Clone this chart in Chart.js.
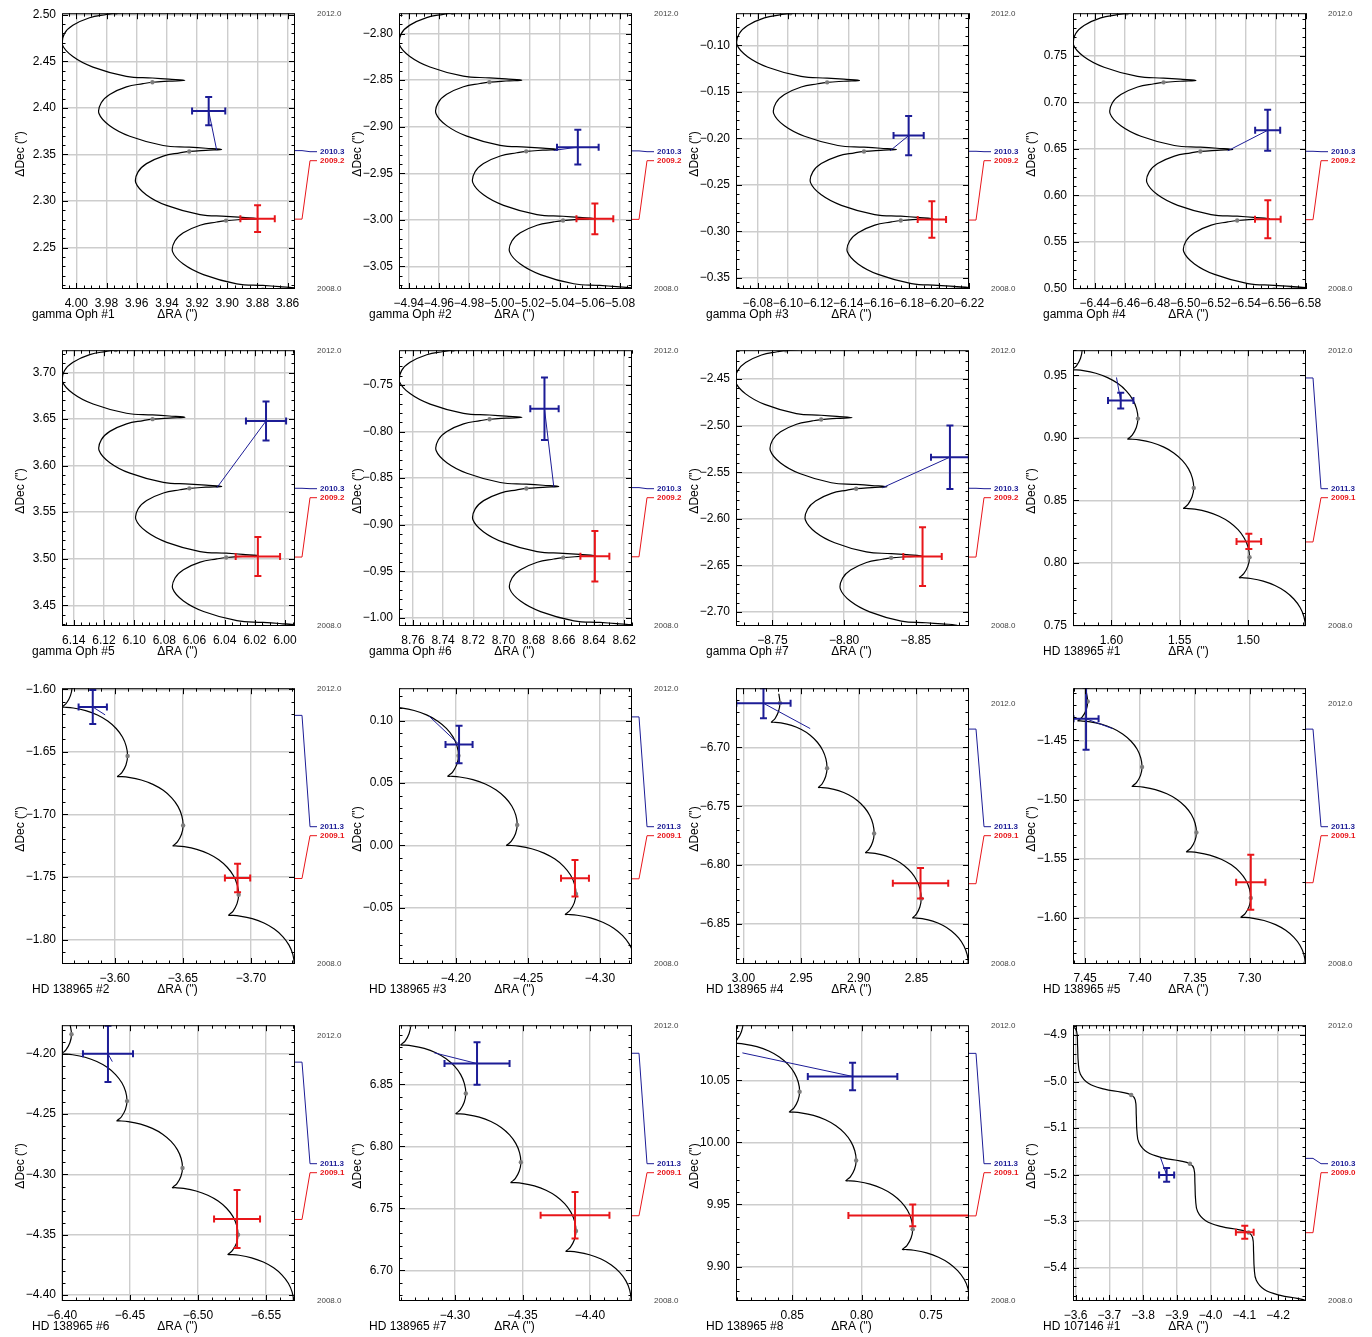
<!DOCTYPE html>
<html>
<head>
<meta charset="utf-8">
<script src="https://cdn.jsdelivr.net/npm/chart.js@4.4.0/dist/chart.umd.min.js"></script>
<style>
html, body { margin: 0; padding: 0; background: #fff; overflow: hidden; }
#grid { position: relative; width: 1372px; height: 1337px; }
#grid canvas { position: absolute; }
</style>
</head>
<body>
<div id="grid"></div>
<script>
// model tracks, offsets (RA, Dec) from the 2009.0 position
const gamTrackRA = [-0.0182,
  -0.0244, -0.0354, -0.0459, -0.0354, -0.0244, -0.0071, 0.0150, 0.0283, 0.0354, 0.0339, 0.0283, 0.0172, 0.0062,
  0, -0.0110, -0.0215, -0.0110, 0, 0.0173, 0.0394, 0.0527, 0.0598, 0.0583, 0.0527, 0.0416, 0.0306,
  0.0244, 0.0134, 0.0029, 0.0134, 0.0244, 0.0417, 0.0638, 0.0771, 0.0842, 0.0827, 0.0771, 0.0660, 0.0550,
  0.0488, 0.0378, 0.0273, 0.0378, 0.0488, 0.0661, 0.0882, 0.1015, 0.1086, 0.1071, 0.1015, 0.0904, 0.0794,
  0.0732, 0.0622, 0.0517];
const gamTrackDec = [-0.0758,
  -0.0743, -0.0731, -0.0722, -0.0709, -0.0697, -0.0679, -0.0580, -0.0467, -0.0336, -0.0220, -0.0131, -0.0050, -0.0015,
  0, 0.0012, 0.0021, 0.0034, 0.0046, 0.0064, 0.0163, 0.0276, 0.0407, 0.0523, 0.0612, 0.0693, 0.0728,
  0.0743, 0.0755, 0.0764, 0.0777, 0.0789, 0.0807, 0.0906, 0.1019, 0.1150, 0.1266, 0.1355, 0.1436, 0.1471,
  0.1486, 0.1498, 0.1507, 0.1520, 0.1532, 0.1550, 0.1649, 0.1762, 0.1893, 0.2009, 0.2098, 0.2179, 0.2214,
  0.2229, 0.2241, 0.2250];
const gamDotRA = [-0.0244, 0, 0.0244, 0.0488, 0.0732];
const gamDotDec = [-0.0743, 0, 0.0743, 0.1486, 0.2229];

const hdTrackRA = [-0.0396,
  -0.0408, -0.0398, -0.0370, -0.0324, -0.0262, -0.0186, -0.0100, -0.0008, 0.0054, 0.0074, 0.0068, 0.0042, 0.0012,
  0, 0.0010, 0.0038, 0.0084, 0.0146, 0.0222, 0.0308, 0.0400, 0.0462, 0.0482, 0.0476, 0.0450, 0.0420,
  0.0408, 0.0418, 0.0446, 0.0492, 0.0554, 0.0630, 0.0716, 0.0808, 0.0870, 0.0890, 0.0884, 0.0858, 0.0828,
  0.0816, 0.0826, 0.0854, 0.0900, 0.0962, 0.1038, 0.1124, 0.1216, 0.1278, 0.1298, 0.1292, 0.1266, 0.1236,
  0.1224, 0.1234];
const hdTrackDec = [-0.0625,
  -0.0554, -0.0476, -0.0402, -0.0334, -0.0274, -0.0226, -0.0191, -0.0170, -0.0164, -0.0164, -0.0157, -0.0132, -0.0071,
  0, 0.0078, 0.0152, 0.0220, 0.0280, 0.0328, 0.0363, 0.0384, 0.0390, 0.0390, 0.0397, 0.0422, 0.0483,
  0.0554, 0.0632, 0.0706, 0.0774, 0.0834, 0.0882, 0.0917, 0.0938, 0.0944, 0.0944, 0.0951, 0.0976, 0.1037,
  0.1108, 0.1186, 0.1260, 0.1328, 0.1388, 0.1436, 0.1471, 0.1492, 0.1498, 0.1498, 0.1505, 0.1530, 0.1591,
  0.1662, 0.1740];
const hdDotRA = [-0.0408, 0, 0.0408, 0.0816, 0.1224];
const hdDotDec = [-0.0554, 0, 0.0554, 0.1108, 0.1662];

// HD 138965 #5 is drawn wider in RA in the figure
const hd5TrackRA = [-0.0480,
  -0.0495, -0.0483, -0.0449, -0.0393, -0.0318, -0.0226, -0.0121, -0.0010, 0.0066, 0.0090, 0.0082, 0.0051, 0.0015,
  0, 0.0012, 0.0046, 0.0102, 0.0177, 0.0269, 0.0374, 0.0485, 0.0560, 0.0585, 0.0577, 0.0546, 0.0509,
  0.0495, 0.0507, 0.0541, 0.0597, 0.0672, 0.0764, 0.0869, 0.0980, 0.1055, 0.1080, 0.1072, 0.1041, 0.1004,
  0.0990, 0.1002, 0.1036, 0.1092, 0.1167, 0.1259, 0.1363, 0.1475, 0.1550, 0.1574, 0.1567, 0.1536, 0.1499,
  0.1485, 0.1497];
const hd5DotRA = [-0.0495, 0, 0.0495, 0.0990, 0.1485];

const hd107TrackRA = [-0.1857,
  -0.1738, -0.1440, -0.0944, -0.0467, -0.0229, -0.0169, -0.0149, -0.0119,
  0, 0.0298, 0.0794, 0.1271, 0.1509, 0.1569, 0.1589, 0.1619,
  0.1738, 0.2036, 0.2532, 0.3009, 0.3247, 0.3307, 0.3327, 0.3357,
  0.3476, 0.3774, 0.4270, 0.4747, 0.4985, 0.5045, 0.5065, 0.5095,
  0.5214, 0.5512];
const hd107TrackDec = [-0.1583,
  -0.1478, -0.1415, -0.1351, -0.1225, -0.1027, -0.0774, -0.0422, -0.0105,
  0, 0.0063, 0.0127, 0.0253, 0.0451, 0.0704, 0.1056, 0.1373,
  0.1478, 0.1541, 0.1605, 0.1731, 0.1929, 0.2182, 0.2534, 0.2851,
  0.2956, 0.3019, 0.3083, 0.3209, 0.3407, 0.3660, 0.4012, 0.4329,
  0.4434, 0.4497];
const hd107DotRA = [-0.1738, 0, 0.1738, 0.3476, 0.5214];
const hd107DotDec = [-0.1478, 0, 0.1478, 0.2956, 0.4434];

// panels
const panelNames = ['gamma Oph #1', 'gamma Oph #2', 'gamma Oph #3', 'gamma Oph #4',
  'gamma Oph #5', 'gamma Oph #6', 'gamma Oph #7', 'HD 138965 #1',
  'HD 138965 #2', 'HD 138965 #3', 'HD 138965 #4', 'HD 138965 #5',
  'HD 138965 #6', 'HD 138965 #7', 'HD 138965 #8', 'HD 107146 #1'];
const panelStar = ['gam', 'gam', 'gam', 'gam', 'gam', 'gam', 'gam', 'hd',
  'hd', 'hd', 'hd', 'hd5', 'hd', 'hd', 'hd', 'hd107'];
const epochBlue = ['2010.3', '2010.3', '2010.3', '2010.3', '2010.3', '2010.3', '2010.3', '2011.3',
  '2011.3', '2011.3', '2011.3', '2011.3', '2011.3', '2011.3', '2011.3', '2010.3'];
const epochRed = ['2009.2', '2009.2', '2009.2', '2009.2', '2009.2', '2009.2', '2009.2', '2009.1',
  '2009.1', '2009.1', '2009.1', '2009.1', '2009.1', '2009.1', '2009.1', '2009.0'];

const xMin = [3.8551, -5.0880, -6.2200, -6.5800, 5.9934, 8.6148, -8.8871, 1.4577,
  -3.7324, -4.3222, 2.8045, 7.2488, -6.5713, -4.4311, 0.7225, -4.2824];
const xMax = [4.0095, -4.9336, -6.0656, -6.4256, 6.1478, 8.7692, -8.7246, 1.6281,
  -3.5612, -4.1604, 3.0064, 7.4610, -6.4000, -4.2585, 0.8906, -3.5921];
const yMin = [2.2055, -3.0742, -0.3620, 0.4993, 3.4277, -1.0088, -2.7152, 0.7495,
  -1.8195, -0.0950, -6.8840, -1.6392, -4.4049, 6.6754, 9.8722, -5.4718];
const yMax = [2.5018, -2.7781, -0.0653, 0.7960, 3.7240, -0.7125, -2.4189, 0.9700,
  -1.5992, 0.1261, -6.6498, -1.4058, -4.1763, 6.8976, 10.0945, -4.8789];

const xTicks = [
  [4.00, 3.98, 3.96, 3.94, 3.92, 3.90, 3.88, 3.86],
  [-4.94, -4.96, -4.98, -5.00, -5.02, -5.04, -5.06, -5.08],
  [-6.08, -6.10, -6.12, -6.14, -6.16, -6.18, -6.20, -6.22],
  [-6.44, -6.46, -6.48, -6.50, -6.52, -6.54, -6.56, -6.58],
  [6.14, 6.12, 6.10, 6.08, 6.06, 6.04, 6.02, 6.00],
  [8.76, 8.74, 8.72, 8.70, 8.68, 8.66, 8.64, 8.62],
  [-8.75, -8.80, -8.85],
  [1.60, 1.55, 1.50],
  [-3.60, -3.65, -3.70],
  [-4.20, -4.25, -4.30],
  [3.00, 2.95, 2.90, 2.85],
  [7.45, 7.40, 7.35, 7.30],
  [-6.40, -6.45, -6.50, -6.55],
  [-4.30, -4.35, -4.40],
  [0.85, 0.80, 0.75],
  [-3.6, -3.7, -3.8, -3.9, -4.0, -4.1, -4.2]];
const yTicks = [
  [2.25, 2.30, 2.35, 2.40, 2.45, 2.50],
  [-3.05, -3.00, -2.95, -2.90, -2.85, -2.80],
  [-0.35, -0.30, -0.25, -0.20, -0.15, -0.10],
  [0.50, 0.55, 0.60, 0.65, 0.70, 0.75],
  [3.45, 3.50, 3.55, 3.60, 3.65, 3.70],
  [-1.00, -0.95, -0.90, -0.85, -0.80, -0.75],
  [-2.70, -2.65, -2.60, -2.55, -2.50, -2.45],
  [0.75, 0.80, 0.85, 0.90, 0.95],
  [-1.80, -1.75, -1.70, -1.65, -1.60],
  [-0.05, 0.00, 0.05, 0.10],
  [-6.85, -6.80, -6.75, -6.70],
  [-1.60, -1.55, -1.50, -1.45],
  [-4.40, -4.35, -4.30, -4.25, -4.20],
  [6.70, 6.75, 6.80, 6.85],
  [9.90, 9.95, 10.00, 10.05],
  [-5.4, -5.3, -5.2, -5.1, -5.0, -4.9]];

// model position at 2009.0
const origRA = [3.9008, -5.0423, -6.1748, -6.5344, 6.0390, 8.6604, -8.8328, 1.4990,
  -3.6910, -4.2833, 2.8459, 7.2991, -6.5294, -4.3896, 0.7631, -4.1122];
const origDec = [2.2790, -3.0007, -0.2883, 0.5730, 3.5013, -0.9353, -2.6420, 0.8045,
  -1.7642, -0.0389, -6.8285, -1.5833, -4.3500, 6.7318, 9.9301, -5.3246];

// first epoch (red) measurement
const redRA = [3.8799, -5.0634, -6.1954, -6.5547, 6.0180, 8.6394, -8.8547, 1.4995,
  -3.6902, -4.2826, 2.8465, 7.2991, -6.5287, -4.3889, 0.7631, -4.1010];
const redDec = [2.2811, -2.9989, -0.2873, 0.5744, 3.5023, -0.9339, -2.6406, 0.8171,
  -1.7508, -0.0263, -6.8154, -1.5700, -4.3369, 6.7445, 9.9412, -5.3239];
const redErrRA = [0.0114, 0.0122, 0.0094, 0.0085, 0.0147, 0.0096, 0.0134, 0.0090,
  0.0093, 0.0097, 0.0240, 0.0133, 0.0169, 0.0255, 0.0464, 0.0263];
const redErrDec = [0.0143, 0.0164, 0.0196, 0.0205, 0.0209, 0.0272, 0.0316, 0.0061,
  0.0114, 0.0146, 0.0130, 0.0233, 0.0241, 0.0187, 0.0087, 0.0141];

// second epoch (blue) measurement and model position at that epoch
const blueRA = [3.9123, -5.0521, -6.1800, -6.5546, 6.0126, 8.6728, -8.8738, 1.5932,
  -3.5838, -4.2021, 2.9826, 7.4491, -6.4338, -4.3163, 0.8065, -3.8695];
const blueDec = [2.3967, -2.9219, -0.1970, 0.6700, 3.6480, -0.7755, -2.5338, 0.9297,
  -1.6142, 0.0810, -6.6626, -1.4317, -4.2000, 6.8667, 10.0532, -5.2007];
const blueErrRA = [0.0110, 0.0138, 0.0100, 0.0083, 0.0133, 0.0094, 0.0132, 0.0093,
  0.0104, 0.0094, 0.0235, 0.0114, 0.0184, 0.0241, 0.0323, 0.0223];
const blueErrDec = [0.0152, 0.0186, 0.0212, 0.0221, 0.0210, 0.0336, 0.0341, 0.0063,
  0.0136, 0.0150, 0.0127, 0.0262, 0.0233, 0.0171, 0.0111, 0.0148];
const blueModelRA = [3.9070, -5.0361, -6.1677, -6.5282, 6.0452, 8.6666, -8.8267, 1.5963,
  -3.5929, -4.1815, 2.9421, 7.4250, -6.4370, -4.2845, 0.8860, -3.8516];
const blueModelDec = [2.3547, -2.9254, -0.2133, 0.6480, 3.5762, -0.8596, -2.5667, 0.9482,
  -1.6205, 0.1035, -6.6841, -1.4400, -4.2065, 6.8754, 10.0722, -5.1641];

// ---- layout / style ----
const tracks = {
  gam: { ra: gamTrackRA, dec: gamTrackDec, dotRA: gamDotRA, dotDec: gamDotDec, tension: 0.4 },
  hd: { ra: hdTrackRA, dec: hdTrackDec, dotRA: hdDotRA, dotDec: hdDotDec, tension: 0.35 },
  hd5: { ra: hd5TrackRA, dec: hdTrackDec, dotRA: hd5DotRA, dotDec: hdDotDec, tension: 0.35 },
  hd107: { ra: hd107TrackRA, dec: hd107TrackDec, dotRA: hd107DotRA, dotDec: hd107DotDec, tension: 0.4 }
};
const xMinor = [0.005, 0.005, 0.005, 0.005, 0.005, 0.005, 0.01, 0.01,
  0.01, 0.01, 0.01, 0.01, 0.01, 0.01, 0.01, 0.02];
const yMinor = [0.01, 0.01, 0.01, 0.01, 0.01, 0.01, 0.01, 0.01,
  0.01, 0.01, 0.01, 0.01, 0.01, 0.01, 0.01, 0.02];
const yearTopShift = [0, 0, 0, 0, 0, 0, 0, 0, 0, 0, 15, 15, 10, 0, 0, 0];
const rowTop = [0, 337, 675, 1012];
const CW = 362, CH = 337;
const BLUE = '#1c1c96';
const RED = '#e8161a';
const GRID = '#cdcdcd';
const FONT = '"Liberation Sans", Arial, sans-serif';

function fmt(v, d) {
  const s = Math.abs(v).toFixed(d);
  return (v < 0 && Number(s) !== 0 ? '\u2212' : '') + s;
}

function errBar(pts, color, rot) {
  return {
    data: pts, showLine: true, borderColor: color, borderWidth: 2,
    pointStyle: 'line', rotation: rot, pointRadius: 3.5,
    pointBorderColor: color, pointBorderWidth: 2
  };
}

function deco(i) {
  return {
    id: 'deco' + i,
    afterDraw(chart) {
      const { ctx, chartArea: a, scales } = chart;
      const x = scales.x, y = scales.y;
      ctx.save();
      ctx.strokeStyle = '#000';
      ctx.lineWidth = 1;
      ctx.strokeRect(a.left + 0.5, a.top + 0.5, a.width - 1, a.height - 1);

      // inward ticks on all four sides
      const isMajor = (v, list, st) => list.some(t => Math.abs(t - v) < st / 10);
      ctx.beginPath();
      for (let v = Math.ceil(xMin[i] / xMinor[i] - 1e-6) * xMinor[i]; v <= xMax[i] + 1e-9; v += xMinor[i]) {
        const px = Math.round(x.getPixelForValue(v)) + 0.5;
        const len = isMajor(v, xTicks[i], xMinor[i]) ? 6 : 3.5;
        ctx.moveTo(px, a.bottom); ctx.lineTo(px, a.bottom - len);
        ctx.moveTo(px, a.top); ctx.lineTo(px, a.top + len);
      }
      for (let v = Math.ceil(yMin[i] / yMinor[i] - 1e-6) * yMinor[i]; v <= yMax[i] + 1e-9; v += yMinor[i]) {
        const py = Math.round(y.getPixelForValue(v)) + 0.5;
        const len = isMajor(v, yTicks[i], yMinor[i]) ? 6 : 3.5;
        ctx.moveTo(a.left, py); ctx.lineTo(a.left + len, py);
        ctx.moveTo(a.right, py); ctx.lineTo(a.right - len, py);
      }
      ctx.stroke();

      // axis titles and panel name
      ctx.fillStyle = '#000';
      ctx.font = '12px ' + FONT;
      ctx.textBaseline = 'middle';
      ctx.textAlign = 'left';
      ctx.fillText(panelNames[i], 32, 315);
      ctx.textAlign = 'center';
      ctx.fillText("\u0394RA ('')", (a.left + a.right) / 2 - 1, 315);
      ctx.save();
      ctx.translate(21, 154);
      ctx.rotate(-Math.PI / 2);
      ctx.fillText("\u0394Dec ('')", 0, 0);
      ctx.restore();

      // time scale labels
      ctx.textAlign = 'left';
      ctx.fillStyle = '#444';
      ctx.font = '8px ' + FONT;
      ctx.fillText('2012.0', a.right + 22, a.top + 1 + yearTopShift[i]);
      ctx.fillText('2008.0', a.right + 22, a.bottom);

      // epoch leader lines
      const leader = (y0, yl, color, label) => {
        ctx.strokeStyle = color;
        ctx.lineWidth = 1;
        ctx.beginPath();
        ctx.moveTo(a.right, y0);
        ctx.lineTo(a.right + 7, y0);
        ctx.lineTo(a.right + 15, yl);
        ctx.lineTo(a.right + 22, yl);
        ctx.stroke();
        ctx.fillStyle = color;
        ctx.font = 'bold 8px ' + FONT;
        ctx.fillText(label, a.right + 25, yl);
      };
      leader(y.getPixelForValue(blueModelDec[i]) + 0.5, a.top + 138.5, BLUE, epochBlue[i]);
      leader(y.getPixelForValue(redDec[i]) + 0.5, a.top + 147.5, RED, epochRed[i]);
      ctx.restore();
    }
  };
}

const grid = document.getElementById('grid');

for (let i = 0; i < 16; i++) {
  const cv = document.createElement('canvas');
  cv.width = CW;
  cv.height = CH;
  cv.style.left = (i % 4) * 337 + 'px';
  cv.style.top = rowTop[Math.floor(i / 4)] + 'px';
  grid.appendChild(cv);

  const t = tracks[panelStar[i]];
  const track = t.ra.map((r, k) => ({ x: origRA[i] + r, y: origDec[i] + t.dec[k] }));
  const dots = t.dotRA.map((r, k) => ({ x: origRA[i] + r, y: origDec[i] + t.dotDec[k] }));
  const dec = panelStar[i] === 'hd107' ? 1 : 2;

  const blue = { x: blueRA[i], y: blueDec[i] };
  const red = { x: redRA[i], y: redDec[i] };

  new Chart(cv.getContext('2d'), {
    type: 'scatter',
    data: {
      datasets: [
        errBar([{ x: blue.x - blueErrRA[i], y: blue.y }, { x: blue.x + blueErrRA[i], y: blue.y }], BLUE, 90),
        errBar([{ x: blue.x, y: blue.y - blueErrDec[i] }, { x: blue.x, y: blue.y + blueErrDec[i] }], BLUE, 0),
        errBar([{ x: red.x - redErrRA[i], y: red.y }, { x: red.x + redErrRA[i], y: red.y }], RED, 90),
        errBar([{ x: red.x, y: red.y - redErrDec[i] }, { x: red.x, y: red.y + redErrDec[i] }], RED, 0),
        {
          data: [blue, { x: blueModelRA[i], y: blueModelDec[i] }],
          showLine: true, borderColor: BLUE, borderWidth: 1, pointRadius: 0
        },
        {
          data: dots, showLine: false, pointRadius: 2.2,
          backgroundColor: '#7d7d7d', pointBorderWidth: 0
        },
        {
          data: track, showLine: true, borderColor: '#000', borderWidth: 1.2,
          pointRadius: 0, tension: t.tension
        }
      ]
    },
    options: {
      responsive: false,
      animation: false,
      devicePixelRatio: 1,
      events: [],
      layout: { padding: { left: 0, top: 9, right: CW - 295, bottom: 0 } },
      plugins: { legend: { display: false }, tooltip: { enabled: false } },
      scales: {
        x: {
          type: 'linear',
          reverse: true,
          min: xMin[i],
          max: xMax[i],
          afterBuildTicks: s => {
            s.ticks = xTicks[i].filter(v => v >= xMin[i] - 1e-6 && v <= xMax[i] + 1e-6).map(v => ({ value: v }));
          },
          afterFit: s => { s.height = 48; },
          grid: { color: GRID, lineWidth: 1.4, drawTicks: false },
          border: { display: false },
          ticks: {
            autoSkip: false, maxRotation: 0, padding: 7, color: '#000',
            font: { family: FONT, size: 12 },
            callback: v => fmt(v, dec)
          }
        },
        y: {
          type: 'linear',
          min: yMin[i],
          max: yMax[i],
          afterBuildTicks: s => {
            s.ticks = yTicks[i].filter(v => v >= yMin[i] - 1e-6 && v <= yMax[i] + 1e-6).map(v => ({ value: v }));
          },
          afterFit: s => { s.width = 62; },
          grid: { color: GRID, lineWidth: 1.4, drawTicks: false },
          border: { display: false },
          ticks: {
            padding: 6, color: '#000',
            font: { family: FONT, size: 12 },
            callback: v => fmt(v, dec)
          }
        }
      }
    },
    plugins: [deco(i)]
  });
}
</script>
</body>
</html>
